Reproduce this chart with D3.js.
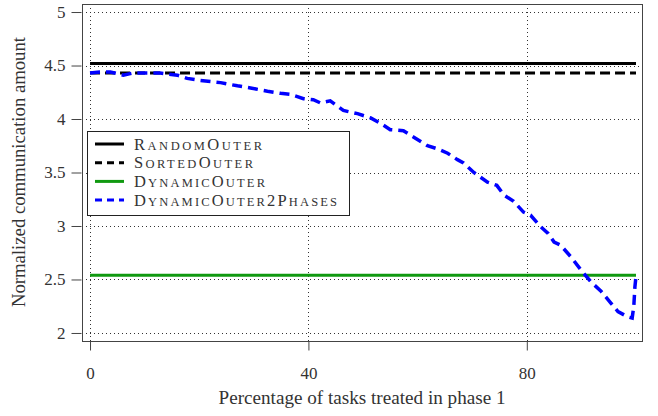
<!DOCTYPE html>
<meta charset="utf-8" />
<script src="https://d3js.org/d3.v7.min.js"></script>
<style>
  body { margin: 0; background: #fff; }
  text { font-family: "Liberation Serif", "DejaVu Serif", serif; }
</style>
<svg id="chart" width="658" height="416"></svg>
<script>
  // Series values
  var randomOuter = 4.52;
  var sortedOuter = 4.43;
  var dynamicOuter = 2.54;

  var phaseX = [0, 1.8, 3.7, 6.1, 7.9, 12.8, 16, 17.8, 20.2, 23.9, 27, 29.4, 32.5, 34.9,
    36.7, 39.1, 40.9, 42.2, 44, 46.4, 49, 51.4, 53.2, 55, 57.4, 59.3, 61.8, 63.7, 65.5,
    67.3, 68.4, 70.3, 72.8, 74.5, 75.8, 77.6, 79.4, 80.7, 82.6, 83.9, 85, 86.2, 88.1,
    89.9, 91.7, 93.6, 95.4, 96.7, 98.5, 99.3, 99.6, 99.8, 100];
  var phaseY = [4.43, 4.44, 4.44, 4.41, 4.43, 4.43, 4.41, 4.38, 4.36, 4.34, 4.31, 4.29, 4.26, 4.24,
    4.23, 4.19, 4.18, 4.15, 4.17, 4.08, 4.05, 4.01, 3.96, 3.90, 3.89, 3.83, 3.75, 3.72, 3.68,
    3.62, 3.59, 3.50, 3.41, 3.38, 3.29, 3.23, 3.13, 3.10, 2.99, 2.93, 2.85, 2.82, 2.71,
    2.59, 2.48, 2.39, 2.28, 2.20, 2.15, 2.14, 2.25, 2.43, 2.53];

  var xTicks = [0, 40, 80];
  var yTicks = [2, 2.5, 3, 3.5, 4, 4.5, 5];
  var legendNames = ["RandomOuter", "SortedOuter", "DynamicOuter", "DynamicOuter2Phases"];

  (function() {
    var svg = d3.select("#chart");
    var mLeft = 82, mRight = 642, mTop = 4, mBottom = 341;

    var x = d3.scaleLinear().domain([-1.47, 101.1]).range([mLeft, mRight]);
    var y = d3.scaleLinear().domain([1.925, 5.075]).range([mBottom, mTop]);

    // grid
    var grid = svg.append("g").attr("stroke", "#333").attr("stroke-width", 1)
      .attr("stroke-dasharray", "1,3");
    grid.selectAll(".gy").data(yTicks).enter().append("line")
      .attr("x1", mLeft).attr("x2", mRight)
      .attr("y1", function(d) { return Math.round(y(d)) + 0.5; })
      .attr("y2", function(d) { return Math.round(y(d)) + 0.5; });
    grid.selectAll(".gx").data(xTicks).enter().append("line")
      .attr("y1", mTop).attr("y2", mBottom)
      .attr("x1", function(d) { return Math.round(x(d)) + 0.5; })
      .attr("x2", function(d) { return Math.round(x(d)) + 0.5; });

    // series
    var colors = ["#000", "#000", "#109910", "#0000ff"];
    var dashes = [null, "10,5", null, "10,6"];
    var flat = [randomOuter, sortedOuter, dynamicOuter];
    flat.forEach(function(v, i) {
      svg.append("line")
        .attr("x1", x(0)).attr("x2", x(100))
        .attr("y1", y(v)).attr("y2", y(v))
        .attr("stroke", colors[i]).attr("stroke-width", 3)
        .attr("stroke-dasharray", dashes[i]);
    });

    var pts = phaseX.map(function(d, i) { return [d, phaseY[i]]; });
    svg.append("path")
      .attr("d", d3.line().x(function(d) { return x(d[0]); }).y(function(d) { return y(d[1]); })(pts))
      .attr("fill", "none").attr("stroke", colors[3]).attr("stroke-width", 3.5)
      .attr("stroke-dasharray", dashes[3]);

    // frame
    svg.append("rect").attr("x", mLeft + 0.5).attr("y", mTop + 0.5)
      .attr("width", mRight - mLeft).attr("height", mBottom - mTop)
      .attr("fill", "none").attr("stroke", "#444").attr("stroke-width", 1);

    // axes
    var yAxis = svg.append("g").attr("transform", "translate(" + (mLeft - 0.5) + ",0)")
      .call(d3.axisLeft(y).tickValues(yTicks).tickSize(10).tickPadding(6)
        .tickFormat(function(d) { return d; }));
    var xAxis = svg.append("g").attr("transform", "translate(0," + (mBottom + 0.5) + ")")
      .call(d3.axisBottom(x).tickValues(xTicks).tickSize(9).tickPadding(16));
    [yAxis, xAxis].forEach(function(a) {
      a.select(".domain").remove();
      a.selectAll("line").attr("stroke", "#444");
      a.selectAll("text").attr("fill", "#333").style("font-size", "17px")
        .style("font-family", "'Liberation Serif', serif");
    });

    svg.append("text").attr("x", 362).attr("y", 404).attr("text-anchor", "middle")
      .attr("fill", "#333").style("font-size", "19px")
      .attr("textLength", 287).attr("lengthAdjust", "spacingAndGlyphs")
      .text("Percentage of tasks treated in phase 1");
    svg.append("text").attr("transform", "translate(25,172) rotate(-90)")
      .attr("text-anchor", "middle").attr("fill", "#333").style("font-size", "19px")
      .attr("textLength", 270).attr("lengthAdjust", "spacingAndGlyphs")
      .text("Normalized communication amount");

    // legend, small caps drawn by hand
    var legendWidths = [128, 119, 131, 203];
    var lg = svg.append("g").attr("transform", "translate(87,131)");
    lg.append("rect").attr("x", 0.5).attr("y", 0.5).attr("width", 262).attr("height", 84)
      .attr("fill", "#fff").attr("stroke", "#222").attr("stroke-width", 1);
    legendNames.forEach(function(name, i) {
      var yy = 13 + i * 18.7;
      lg.append("line").attr("x1", 8).attr("x2", 37).attr("y1", yy).attr("y2", yy)
        .attr("stroke", colors[i]).attr("stroke-width", 3)
        .attr("stroke-dasharray", dashes[i] ? "7,5" : null);
      var t = lg.append("text").attr("x", 47).attr("y", yy + 5.5).attr("fill", "#333")
        .attr("textLength", legendWidths[i]).attr("lengthAdjust", "spacing");
      name.split("").forEach(function(ch) {
        var big = ch !== ch.toLowerCase() || /[0-9]/.test(ch);
        t.append("tspan").style("font-size", big ? "16.5px" : "12.5px").text(ch.toUpperCase());
      });
    });
  })();
</script>
